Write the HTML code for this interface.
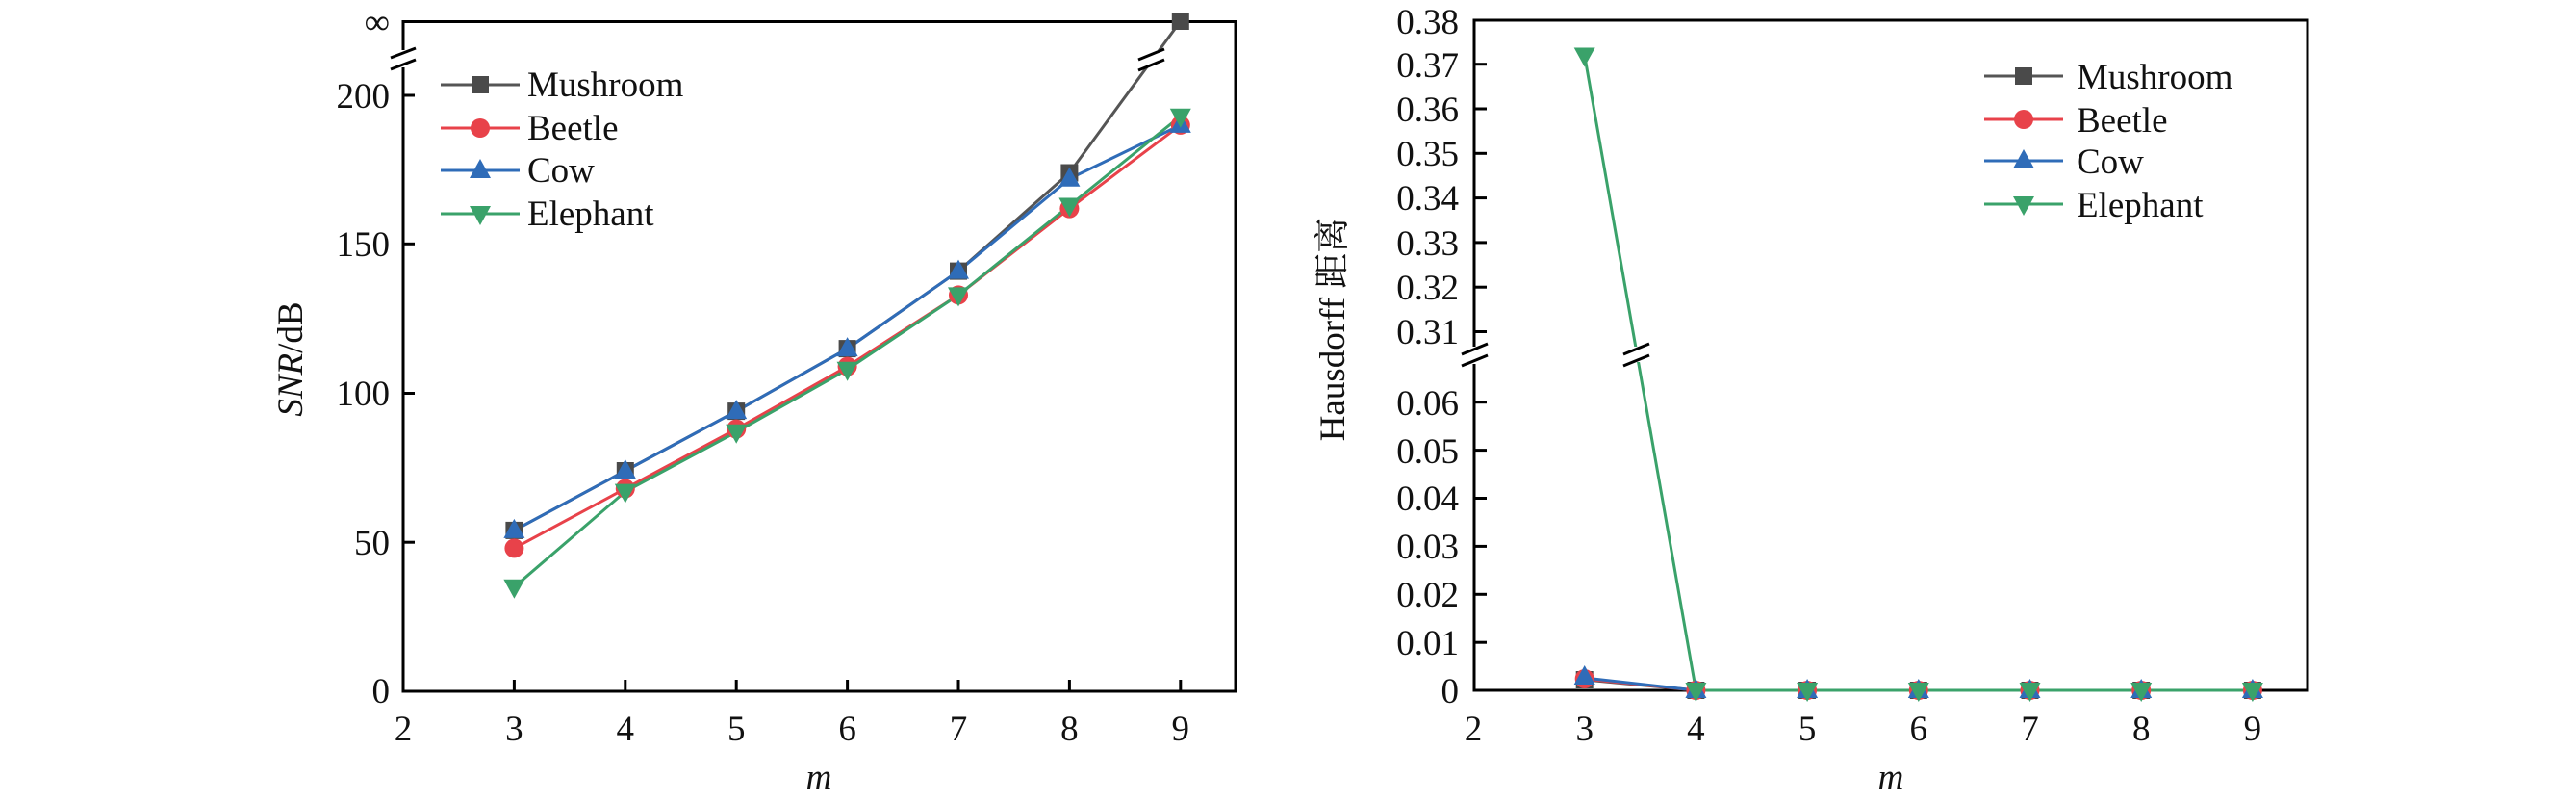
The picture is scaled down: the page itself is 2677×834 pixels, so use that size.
<!DOCTYPE html>
<html><head><meta charset="utf-8"><style>
body{margin:0;background:#fff;}
svg{display:block;font-family:"Liberation Serif","Noto Serif CJK SC",serif;}
</style></head><body>
<svg width="2677" height="834" viewBox="0 0 2677 834" xmlns="http://www.w3.org/2000/svg">
<defs>
<g id="sq"><rect x="-9" y="-9" width="18" height="18" fill="#4a4a4a"/></g>
<g id="ci"><circle r="10" fill="#e8424a"/></g>
<g id="tu"><path d="M0,-12 L11,8 L-11,8 Z" fill="#2f6cb8"/></g>
<g id="td"><path d="M0,12 L11,-8 L-11,-8 Z" fill="#3aa26a"/></g>
</defs>
<!-- LEFT CHART -->
<g>
<rect x="419" y="22.5" width="865" height="695.5" fill="none" stroke="#000" stroke-width="3"/>
<rect x="408" y="52" width="20" height="18" fill="#fff"/>
<line x1="406" y1="60" x2="432" y2="50" stroke="#000" stroke-width="3"/>
<line x1="406" y1="72" x2="432" y2="62" stroke="#000" stroke-width="3"/>
<g stroke="#000" stroke-width="3">
<line x1="419" y1="99" x2="431" y2="99"/><line x1="419" y1="253.3" x2="431" y2="253.3"/>
<line x1="419" y1="408.5" x2="431" y2="408.5"/><line x1="419" y1="563.2" x2="431" y2="563.2"/>
<line x1="534.4" y1="718" x2="534.4" y2="706"/><line x1="649.8" y1="718" x2="649.8" y2="706"/>
<line x1="765.2" y1="718" x2="765.2" y2="706"/><line x1="880.6" y1="718" x2="880.6" y2="706"/>
<line x1="996" y1="718" x2="996" y2="706"/><line x1="1111.4" y1="718" x2="1111.4" y2="706"/>
<line x1="1226.8" y1="718" x2="1226.8" y2="706"/>
</g>
<g font-size="37" fill="#111" text-anchor="end">
<text x="405" y="35">∞</text>
<text x="405" y="112">200</text><text x="405" y="266">150</text>
<text x="405" y="421">100</text><text x="405" y="576">50</text><text x="405" y="730">0</text>
</g>
<g font-size="37" fill="#111" text-anchor="middle">
<text x="419" y="769">2</text><text x="534.4" y="769">3</text><text x="649.8" y="769">4</text>
<text x="765.2" y="769">5</text><text x="880.6" y="769">6</text><text x="996" y="769">7</text>
<text x="1111.4" y="769">8</text><text x="1226.8" y="769">9</text>
<text x="851" y="819" font-style="italic">m</text>
</g>
<text transform="translate(314,373) rotate(-90)" font-size="37" text-anchor="middle" fill="#111"><tspan font-style="italic">SNR</tspan>/dB</text>
<g fill="none" stroke-width="3">
<polyline stroke="#555" points="534.4,550.9 649.8,489 765.2,427.1 880.6,362.1 996,281.6 1111.4,179.5 1226.8,22"/>
<polyline stroke="#e8424a" points="534.4,569.4 649.8,507.5 765.2,445.6 880.6,380.6 996,306.4 1111.4,216.6 1226.8,129.9"/>
<polyline stroke="#2f6cb8" points="534.4,550.9 649.8,489 765.2,427.1 880.6,362.1 996,281.6 1111.4,185.7 1226.8,129.9"/>
<polyline stroke="#3aa26a" points="534.4,609.7 649.8,510.6 765.2,448.7 880.6,383.7 996,306.4 1111.4,213.5 1226.8,120.7"/>
</g>
<rect x="1185" y="52" width="24" height="16" fill="#fff"/>
<line x1="1183" y1="62" x2="1210" y2="51" stroke="#000" stroke-width="3"/>
<line x1="1183" y1="73" x2="1210" y2="62" stroke="#000" stroke-width="3"/>
<g>
<use href="#sq" x="534.4" y="550.9"/><use href="#sq" x="649.8" y="489"/><use href="#sq" x="765.2" y="427.1"/><use href="#sq" x="880.6" y="362.1"/><use href="#sq" x="996" y="281.6"/><use href="#sq" x="1111.4" y="179.5"/><use href="#sq" x="1226.8" y="22"/>
<use href="#ci" x="534.4" y="569.4"/><use href="#ci" x="649.8" y="507.5"/><use href="#ci" x="765.2" y="445.6"/><use href="#ci" x="880.6" y="380.6"/><use href="#ci" x="996" y="306.4"/><use href="#ci" x="1111.4" y="216.6"/><use href="#ci" x="1226.8" y="129.9"/>
<use href="#tu" x="534.4" y="550.9"/><use href="#tu" x="649.8" y="489"/><use href="#tu" x="765.2" y="427.1"/><use href="#tu" x="880.6" y="362.1"/><use href="#tu" x="996" y="281.6"/><use href="#tu" x="1111.4" y="185.7"/><use href="#tu" x="1226.8" y="129.9"/>
<use href="#td" x="534.4" y="609.7"/><use href="#td" x="649.8" y="510.6"/><use href="#td" x="765.2" y="448.7"/><use href="#td" x="880.6" y="383.7"/><use href="#td" x="996" y="306.4"/><use href="#td" x="1111.4" y="213.5"/><use href="#td" x="1226.8" y="120.7"/>
</g>
<g stroke-width="3">
<line x1="458" y1="88" x2="540" y2="88" stroke="#555"/><use href="#sq" x="499" y="88"/>
<line x1="458" y1="133" x2="540" y2="133" stroke="#e8424a"/><use href="#ci" x="499" y="133"/>
<line x1="458" y1="177" x2="540" y2="177" stroke="#2f6cb8"/><use href="#tu" x="499" y="177"/>
<line x1="458" y1="222" x2="540" y2="222" stroke="#3aa26a"/><use href="#td" x="499" y="222"/>
</g>
<g font-size="37" fill="#111">
<text x="548" y="100">Mushroom</text><text x="548" y="145">Beetle</text>
<text x="548" y="189">Cow</text><text x="548" y="234">Elephant</text>
</g>
</g>
<!-- RIGHT CHART -->
<g>
<rect x="1532" y="21" width="866" height="696" fill="none" stroke="#000" stroke-width="3"/>
<rect x="1520" y="360" width="22" height="18" fill="#fff"/>
<line x1="1519" y1="368" x2="1546" y2="357" stroke="#000" stroke-width="3"/>
<line x1="1519" y1="380" x2="1546" y2="369" stroke="#000" stroke-width="3"/>
<g stroke="#000" stroke-width="3">
<line x1="1532" y1="66.7" x2="1545" y2="66.7"/><line x1="1532" y1="113" x2="1545" y2="113"/>
<line x1="1532" y1="159.3" x2="1545" y2="159.3"/><line x1="1532" y1="205.6" x2="1545" y2="205.6"/>
<line x1="1532" y1="251.9" x2="1545" y2="251.9"/><line x1="1532" y1="298.2" x2="1545" y2="298.2"/>
<line x1="1532" y1="344.5" x2="1545" y2="344.5"/>
<line x1="1532" y1="417.7" x2="1545" y2="417.7"/><line x1="1532" y1="467.6" x2="1545" y2="467.6"/>
<line x1="1532" y1="517.5" x2="1545" y2="517.5"/><line x1="1532" y1="567.4" x2="1545" y2="567.4"/>
<line x1="1532" y1="617.3" x2="1545" y2="617.3"/><line x1="1532" y1="667.2" x2="1545" y2="667.2"/>
</g>
<g font-size="37" fill="#111" text-anchor="end">
<text x="1516" y="35">0.38</text><text x="1516" y="80">0.37</text><text x="1516" y="126">0.36</text>
<text x="1516" y="172">0.35</text><text x="1516" y="218">0.34</text><text x="1516" y="265">0.33</text>
<text x="1516" y="311">0.32</text><text x="1516" y="357">0.31</text>
<text x="1516" y="431">0.06</text><text x="1516" y="481">0.05</text><text x="1516" y="530">0.04</text>
<text x="1516" y="580">0.03</text><text x="1516" y="630">0.02</text><text x="1516" y="680">0.01</text>
<text x="1516" y="730">0</text>
</g>
<g font-size="37" fill="#111" text-anchor="middle">
<text x="1531" y="769">2</text><text x="1646.7" y="769">3</text><text x="1762.4" y="769">4</text>
<text x="1878.1" y="769">5</text><text x="1993.8" y="769">6</text><text x="2109.5" y="769">7</text>
<text x="2225.2" y="769">8</text><text x="2340.9" y="769">9</text>
<text x="1965" y="819" font-style="italic">m</text>
</g>
<text transform="translate(1397,342) rotate(-90)" font-size="37" text-anchor="middle" fill="#111">Hausdorff 距离</text>
<g fill="none" stroke-width="3">
<polyline stroke="#555" points="1646.7,706 1762.4,717 2340.9,717"/>
<polyline stroke="#e8424a" points="1646.7,705 1762.4,717 2340.9,717"/>
<polyline stroke="#2f6cb8" points="1646.7,704 1762.4,717 2340.9,717"/>
<polyline stroke="#3aa26a" points="1646.7,57.5 1762.4,717 2340.9,717"/>
</g>
<rect x="1688" y="360" width="26" height="16" fill="#fff"/>
<line x1="1687" y1="368" x2="1714" y2="357" stroke="#000" stroke-width="3"/>
<line x1="1687" y1="380" x2="1714" y2="369" stroke="#000" stroke-width="3"/>
<g>
<use href="#sq" x="1646.7" y="706"/><use href="#ci" x="1646.7" y="705"/><use href="#tu" x="1646.7" y="703"/>
<use href="#td" x="1646.7" y="57.5"/>
<use href="#sq" x="1762.4" y="717"/><use href="#ci" x="1762.4" y="717"/><use href="#tu" x="1762.4" y="717"/><use href="#td" x="1762.4" y="717"/>
<use href="#sq" x="1878.1" y="717"/><use href="#ci" x="1878.1" y="717"/><use href="#tu" x="1878.1" y="717"/><use href="#td" x="1878.1" y="717"/>
<use href="#sq" x="1993.8" y="717"/><use href="#ci" x="1993.8" y="717"/><use href="#tu" x="1993.8" y="717"/><use href="#td" x="1993.8" y="717"/>
<use href="#sq" x="2109.5" y="717"/><use href="#ci" x="2109.5" y="717"/><use href="#tu" x="2109.5" y="717"/><use href="#td" x="2109.5" y="717"/>
<use href="#sq" x="2225.2" y="717"/><use href="#ci" x="2225.2" y="717"/><use href="#tu" x="2225.2" y="717"/><use href="#td" x="2225.2" y="717"/>
<use href="#sq" x="2340.9" y="717"/><use href="#ci" x="2340.9" y="717"/><use href="#tu" x="2340.9" y="717"/><use href="#td" x="2340.9" y="717"/>
</g>
<g stroke-width="3">
<line x1="2062" y1="79" x2="2144" y2="79" stroke="#555"/><use href="#sq" x="2103" y="79"/>
<line x1="2062" y1="124" x2="2144" y2="124" stroke="#e8424a"/><use href="#ci" x="2103" y="124"/>
<line x1="2062" y1="167" x2="2144" y2="167" stroke="#2f6cb8"/><use href="#tu" x="2103" y="167"/>
<line x1="2062" y1="212" x2="2144" y2="212" stroke="#3aa26a"/><use href="#td" x="2103" y="212"/>
</g>
<g font-size="37" fill="#111">
<text x="2158" y="92">Mushroom</text><text x="2158" y="137">Beetle</text>
<text x="2158" y="180">Cow</text><text x="2158" y="225">Elephant</text>
</g>
</g>
</svg>
</body></html>
